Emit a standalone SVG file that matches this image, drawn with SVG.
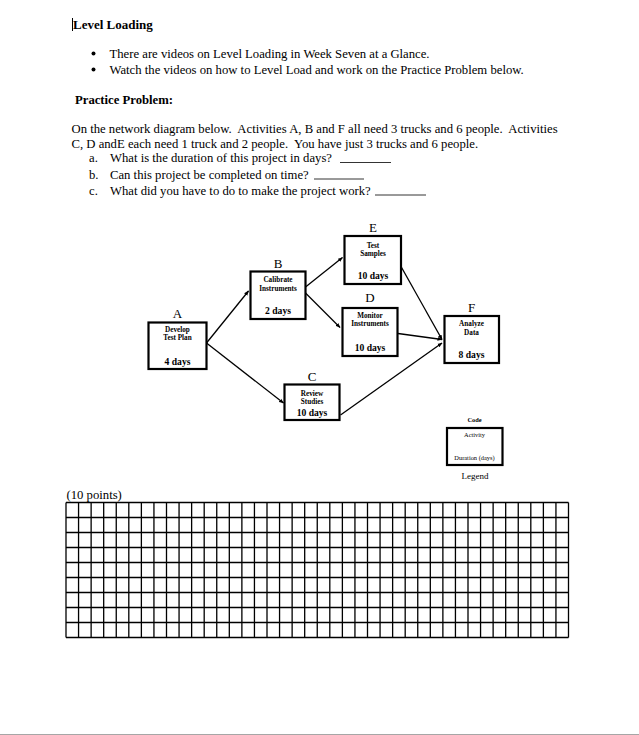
<svg xmlns="http://www.w3.org/2000/svg" width="639" height="735" viewBox="0 0 639 735">
<style>
.t{font-family:"Liberation Serif","Times New Roman",serif;font-size:12.7px;fill:#000}
.b{font-weight:bold}
.lbl{font-family:"Liberation Serif","Times New Roman",serif;font-size:13px;text-anchor:middle;fill:#000}
.nm{font-family:"Liberation Serif","Times New Roman",serif;font-size:7.2px;font-weight:bold;text-anchor:middle;fill:#000}
.dur{font-family:"Liberation Serif","Times New Roman",serif;font-size:9.6px;font-weight:bold;text-anchor:middle;fill:#000}
.box{fill:#fff;stroke:#000;stroke-width:2.2}
.edge{stroke:#000;stroke-width:1.3;fill:none;marker-end:url(#ah)}
.lg{font-family:"Liberation Serif","Times New Roman",serif;font-size:6.4px;text-anchor:middle;fill:#000}
</style>
<defs>
<marker id="ah" viewBox="0 0 10 10" refX="9" refY="5" markerWidth="5" markerHeight="5" orient="auto" markerUnits="userSpaceOnUse">
<path d="M0,1 L10,5 L0,9 z" fill="#000"/>
</marker>
</defs>
<rect x="0" y="0" width="639" height="735" fill="#fff"/>

<g id="header">
<line x1="72.5" y1="18" x2="72.5" y2="31" stroke="#000" stroke-width="1"/>
<text class="t b" style="font-size:13px" x="73" y="28.5">Level Loading</text>
<circle cx="93.5" cy="53.5" r="2" fill="#000"/>
<text class="t" x="109.5" y="58">There are videos on Level Loading in Week Seven at a Glance.</text>
<circle cx="93.5" cy="69.5" r="2" fill="#000"/>
<text class="t" x="109.5" y="74">Watch the videos on how to Level Load and work on the Practice Problem below.</text>
<text class="t b" x="75" y="103.5">Practice Problem:</text>
<text class="t" x="71.5" y="132.5" xml:space="preserve">On the network diagram below.  Activities A, B and F all need 3 trucks and 6 people.  Activities</text>
<text class="t" x="71.5" y="147.5" xml:space="preserve">C, D andE each need 1 truck and 2 people.  You have just 3 trucks and 6 people.</text>
<text class="t" x="89" y="162">a.</text>
<text class="t" x="110" y="162">What is the duration of this project in days?</text>
<line x1="340" y1="162.5" x2="391" y2="162.5" stroke="#000" stroke-width="0.8"/>
<text class="t" x="89" y="178.5">b.</text>
<text class="t" x="110" y="178.5">Can this project be completed on time?</text>
<line x1="314" y1="179" x2="364" y2="179" stroke="#000" stroke-width="0.8"/>
<text class="t" x="89" y="194.5">c.</text>
<text class="t" x="110" y="194.5">What did you have to do to make the project work?</text>
<line x1="375" y1="195" x2="426" y2="195" stroke="#000" stroke-width="0.8"/>
</g>

<g id="connectors">
<line class="edge" x1="206.5" y1="343" x2="248.5" y2="291"/>
<line class="edge" x1="206.5" y1="343" x2="283.5" y2="403"/>
<line class="edge" x1="305.5" y1="287" x2="342.5" y2="257.5"/>
<line class="edge" x1="305.5" y1="293" x2="340" y2="327.5"/>
<line class="edge" x1="401" y1="266.5" x2="442" y2="339.5"/>
<line class="edge" x1="398" y1="333.5" x2="442" y2="339.5"/>
<line class="edge" x1="340.5" y1="415" x2="442" y2="343"/>
</g>

<g id="node-A">
<text class="lbl" x="177.5" y="318">A</text>
<rect class="box" x="148.5" y="322.5" width="58" height="46.5"/>
<text class="nm" x="177.5" y="331.5">Develop</text>
<text class="nm" x="177.5" y="340">Test Plan</text>
<text class="dur" x="177.5" y="365">4 days</text>
</g>

<g id="node-B">
<text class="lbl" x="278" y="268">B</text>
<rect class="box" x="250.5" y="271.5" width="55" height="47.5"/>
<text class="nm" x="278" y="282">Calibrate</text>
<text class="nm" x="278" y="290.5">Instruments</text>
<text class="dur" x="278" y="314">2 days</text>
</g>

<g id="node-C">
<text class="lbl" x="312" y="381">C</text>
<rect class="box" x="284.5" y="384.5" width="55" height="35.5"/>
<text class="nm" x="312" y="395.5">Review</text>
<text class="nm" x="312" y="404">Studies</text>
<text class="dur" x="312" y="415.5">10 days</text>
</g>

<g id="node-E">
<text class="lbl" x="373" y="232">E</text>
<rect class="box" x="344.5" y="236" width="56.5" height="48"/>
<text class="nm" x="373" y="247.5">Test</text>
<text class="nm" x="373" y="256">Samples</text>
<text class="dur" x="373" y="279">10 days</text>
</g>

<g id="node-D">
<text class="lbl" x="370" y="302">D</text>
<rect class="box" x="342.5" y="308" width="55" height="48"/>
<text class="nm" x="370" y="317.5">Monitor</text>
<text class="nm" x="370" y="326">Instruments</text>
<text class="dur" x="370" y="351">10 days</text>
</g>

<g id="node-F">
<text class="lbl" x="471.5" y="312">F</text>
<rect class="box" x="444.5" y="316" width="54.5" height="47"/>
<text class="nm" x="471.5" y="325.5">Analyze</text>
<text class="nm" x="471.5" y="334.5">Data</text>
<text class="dur" x="471.5" y="358">8 days</text>
</g>

<g id="legend">
<text class="lg b" x="474.5" y="421.5">Code</text>
<rect class="box" x="447" y="428" width="55.5" height="37"/>
<text class="lg" x="474.5" y="436.5">Activity</text>
<text class="lg" x="474.5" y="460">Duration (days)</text>
<text class="lbl" style="font-size:9px" x="475" y="479">Legend</text>
</g>

<g id="grid">
<text class="t" x="66.5" y="499">(10 points)</text>
<path fill="none" stroke="#000" stroke-width="1.3" d="M66 502.5V637.5M78.56 502.5V637.5M91.13 502.5V637.5M103.69 502.5V637.5M116.25 502.5V637.5M128.81 502.5V637.5M141.38 502.5V637.5M153.94 502.5V637.5M166.5 502.5V637.5M179.06 502.5V637.5M191.63 502.5V637.5M204.19 502.5V637.5M216.75 502.5V637.5M229.31 502.5V637.5M241.88 502.5V637.5M254.44 502.5V637.5M267 502.5V637.5M279.56 502.5V637.5M292.13 502.5V637.5M304.69 502.5V637.5M317.25 502.5V637.5M329.81 502.5V637.5M342.38 502.5V637.5M354.94 502.5V637.5M367.5 502.5V637.5M380.06 502.5V637.5M392.63 502.5V637.5M405.19 502.5V637.5M417.75 502.5V637.5M430.31 502.5V637.5M442.88 502.5V637.5M455.44 502.5V637.5M468 502.5V637.5M480.56 502.5V637.5M493.13 502.5V637.5M505.69 502.5V637.5M518.25 502.5V637.5M530.81 502.5V637.5M543.38 502.5V637.5M555.94 502.5V637.5M568.5 502.5V637.5M66 502.5H568.5M66 517.5H568.5M66 532.5H568.5M66 547.5H568.5M66 562.5H568.5M66 577.5H568.5M66 592.5H568.5M66 607.5H568.5M66 622.5H568.5M66 637.5H568.5"/>
</g>

<line x1="0" y1="734.5" x2="639" y2="734.5" stroke="#a6a6a6" stroke-width="1"/>
</svg>
